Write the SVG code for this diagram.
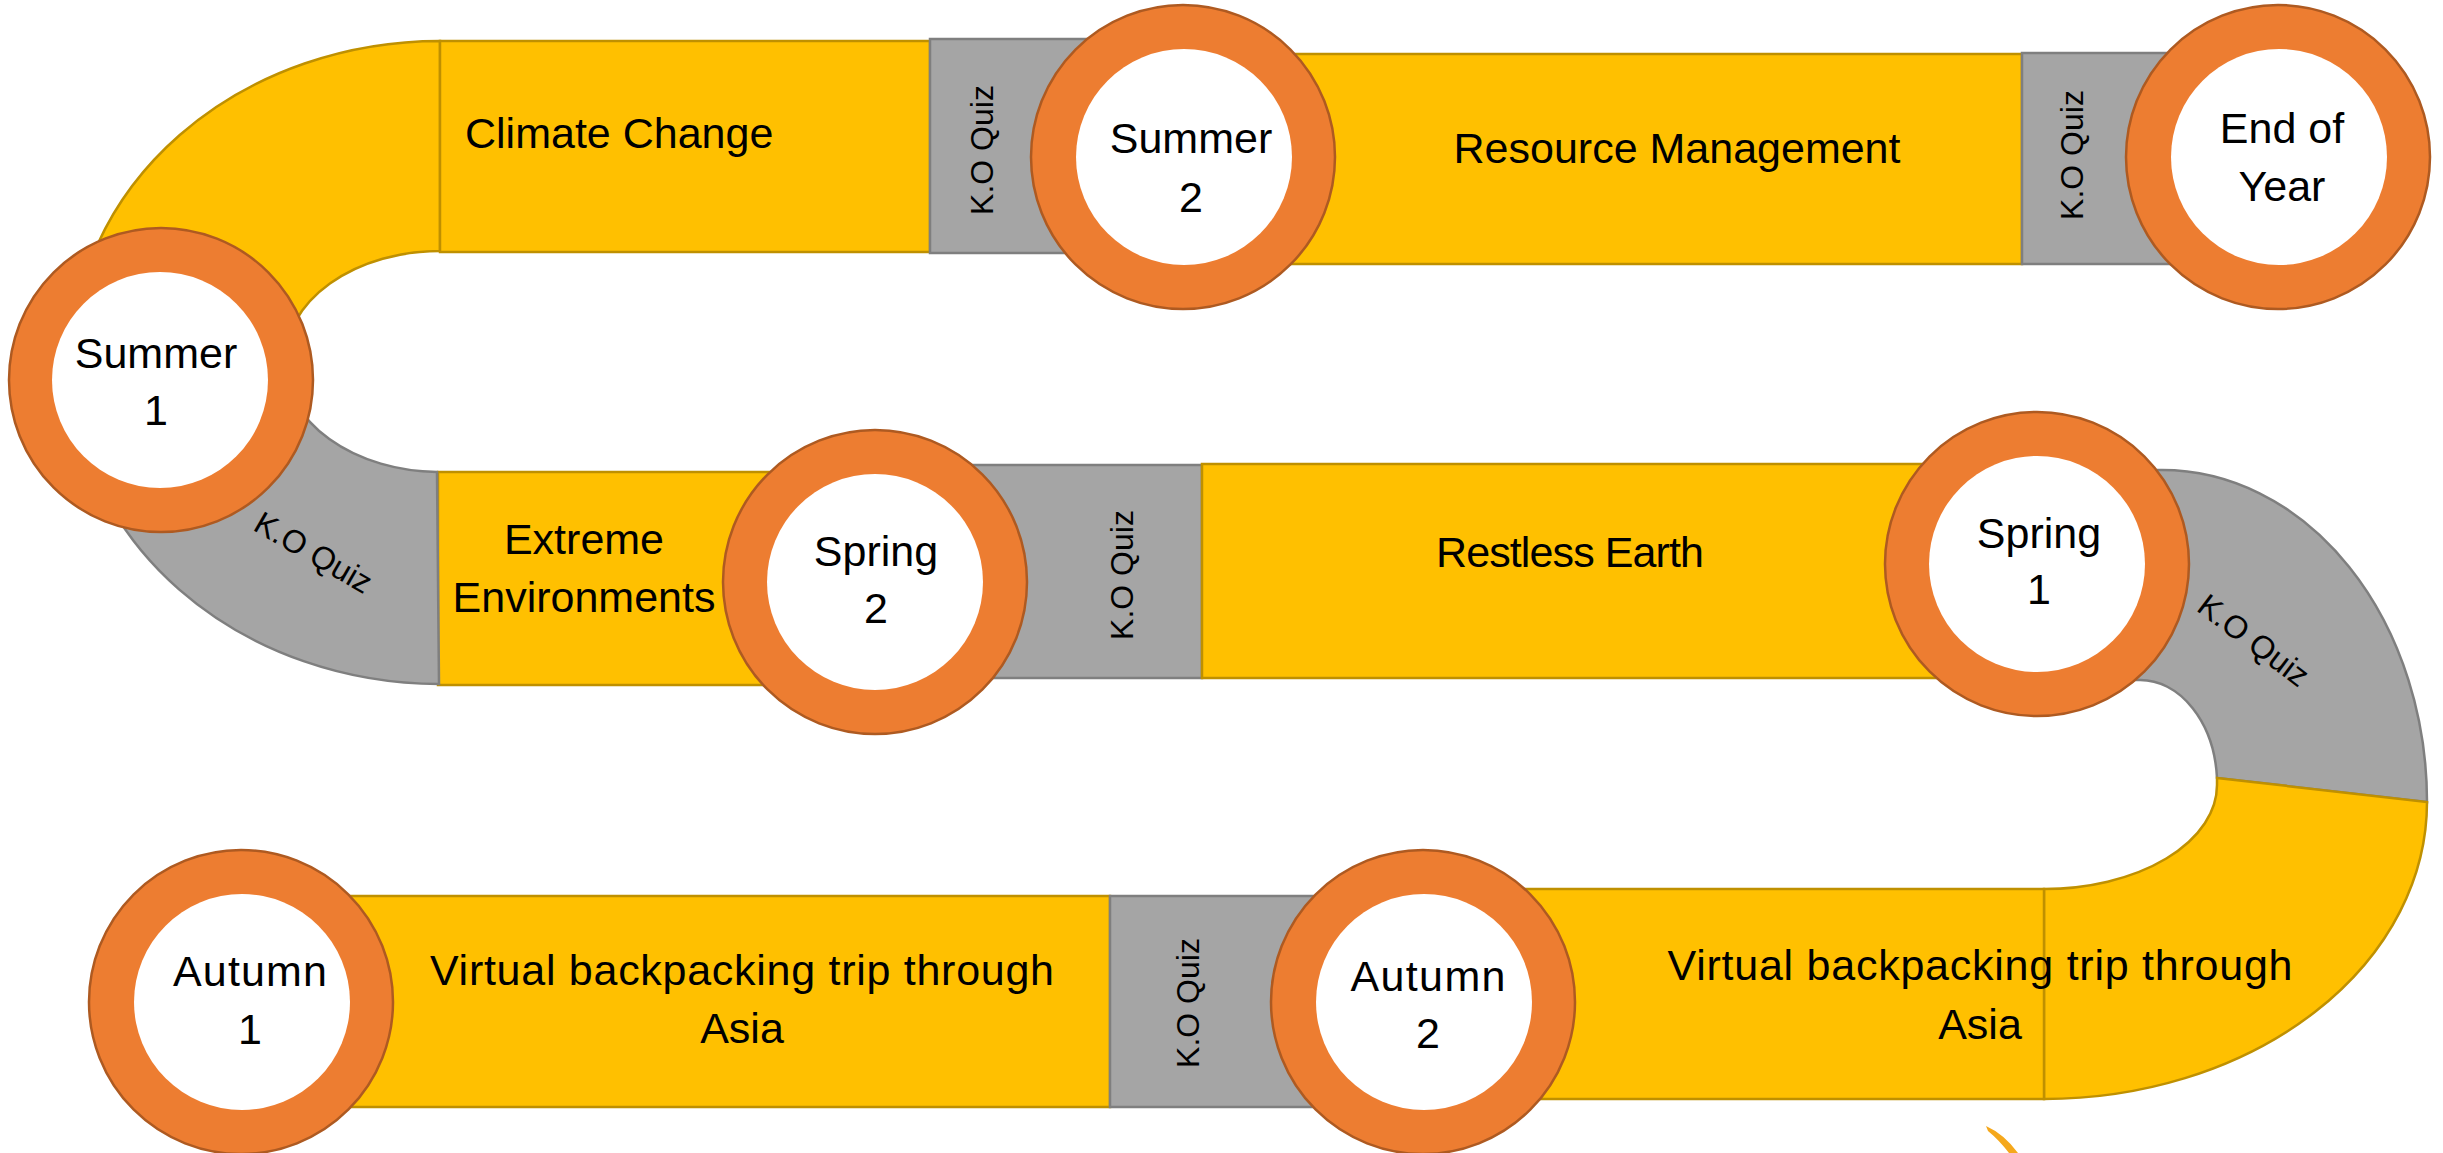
<svg xmlns="http://www.w3.org/2000/svg" width="2443" height="1153" viewBox="0 0 2443 1153">
<style>
.y{fill:#FFC000;stroke:#BF9000;stroke-width:2.5}
.g{fill:#A5A5A5;stroke:#7F7F7F;stroke-width:2.5}
.ring{fill:#ED7D31;stroke:#AE5A21;stroke-width:2.5}
.hole{fill:#FFFFFF}
.t{font-family:"Liberation Sans",Arial,sans-serif;font-size:43px;fill:#000000}
.c{text-anchor:middle}
.q{font-size:32px}
</style>
<rect width="2443" height="1153" fill="#FFFFFF"/>
<g id="connectors">
  <g id="bend-left-top"><path class="y" d="M440,41 A368 321 0 0 0 72,362 L285,362 A155 110 0 0 1 440,251 Z"/></g>
  <g id="seg-extreme"><rect class="y" x="438" y="472" width="438" height="213"/>
    <text class="t c" x="584" y="554">Extreme</text>
    <text class="t c" x="584" y="612">Environments</text></g>
  <g id="bend-left-quiz">
    <path class="g" d="M72,362 A368 321 0 0 0 439,684 L437,472 A155 110 0 0 1 285,362 Z"/>
    <text class="t c q" font-size="31" transform="translate(308,562) rotate(30)">K.O Quiz</text>
  </g>
  <g id="seg-climate"><rect class="y" x="440" y="41" width="490" height="211"/>
    <text class="t" x="465" y="148">Climate Change</text></g>
  <g id="seg-quiz-a"><rect class="g" x="930" y="39" width="253" height="214"/>
    <text class="t c q" transform="translate(993,150) rotate(-90)">K.O Quiz</text></g>
  <g id="seg-resource"><rect class="y" x="1183" y="54" width="839" height="210"/>
    <text class="t c" x="1677" y="163">Resource Management</text></g>
  <g id="seg-quiz-b"><rect class="g" x="2022" y="53" width="256" height="211"/>
    <text class="t c q" transform="translate(2083,155) rotate(-90)">K.O Quiz</text></g>
  <g id="seg-quiz-c"><rect class="g" x="876" y="465" width="326" height="213"/>
    <text class="t c q" transform="translate(1133,575) rotate(-90)">K.O Quiz</text></g>
  <g id="seg-restless"><rect class="y" x="1202" y="464" width="835" height="214"/>
    <text class="t c" x="1570" y="567" textLength="268">Restless Earth</text></g>
  <g id="bend-right-quiz">
    <path class="g" d="M2050,470 L2162,470 A265 332 0 0 1 2427,802 L2217,778 A77 105 0 0 0 2140,680 L2050,680 Z"/>
    <text class="t c q" transform="translate(2247,649) rotate(37)">K.O Quiz</text>
  </g>
  <g id="bend-right-bottom"><path class="y" d="M2217,778 L2427,802 A383 297 0 0 1 2044,1099 L2044,889 A173 104 0 0 0 2217,785 Z"/></g>
  <g id="seg-virtual-1"><rect class="y" x="241" y="896" width="869" height="211"/></g>
  <g id="seg-quiz-e"><rect class="g" x="1110" y="896" width="313" height="211"/>
    <text class="t c q" transform="translate(1199,1003) rotate(-90)">K.O Quiz</text></g>
  <g id="seg-virtual-2"><rect class="y" x="1423" y="889" width="621" height="210"/></g>
</g>
<g id="node-summer-1"><circle class="ring" cx="161" cy="380" r="152"/><circle class="hole" cx="160" cy="380" r="108"/>
  <text class="t c" x="156" y="368">Summer</text><text class="t c" x="156" y="425">1</text></g>
<g id="node-summer-2"><circle class="ring" cx="1183" cy="157" r="152"/><circle class="hole" cx="1184" cy="157" r="108"/>
  <text class="t c" x="1191" y="153">Summer</text><text class="t c" x="1191" y="212">2</text></g>
<g id="node-end-of-year"><circle class="ring" cx="2278" cy="157" r="152"/><circle class="hole" cx="2279" cy="157" r="108"/>
  <text class="t c" x="2282" y="143">End of</text><text class="t c" x="2282" y="201">Year</text></g>
<g id="node-spring-2"><circle class="ring" cx="875" cy="582" r="152"/><circle class="hole" cx="875" cy="582" r="108"/>
  <text class="t c" x="876" y="566">Spring</text><text class="t c" x="876" y="623">2</text></g>
<g id="node-spring-1"><circle class="ring" cx="2037" cy="564" r="152"/><circle class="hole" cx="2037" cy="564" r="108"/>
  <text class="t c" x="2039" y="548">Spring</text><text class="t c" x="2039" y="604">1</text></g>
<g id="node-autumn-1"><circle class="ring" cx="241" cy="1002" r="152"/><circle class="hole" cx="242" cy="1002" r="108"/>
  <text class="t c" x="250" y="986" textLength="154">Autumn</text><text class="t c" x="250" y="1044">1</text></g>
<g id="node-autumn-2"><circle class="ring" cx="1423" cy="1002" r="152"/><circle class="hole" cx="1424" cy="1002" r="108"/>
  <text class="t c" x="1428" y="991" textLength="155">Autumn</text><text class="t c" x="1428" y="1048">2</text></g>
<g id="labels-virtual">
  <text class="t c" x="742" y="985" textLength="624">Virtual backpacking trip through</text>
  <text class="t c" x="742" y="1043">Asia</text>
  <text class="t c" x="1980" y="980" textLength="625">Virtual backpacking trip through</text>
  <text class="t c" x="1980" y="1039">Asia</text>
</g>
<g id="mark"><path d="M1986,1126 Q2004,1134 2018,1153 L2009,1153 Q1999,1140 1988,1131 Z" fill="#F5A81C"/></g>
</svg>
